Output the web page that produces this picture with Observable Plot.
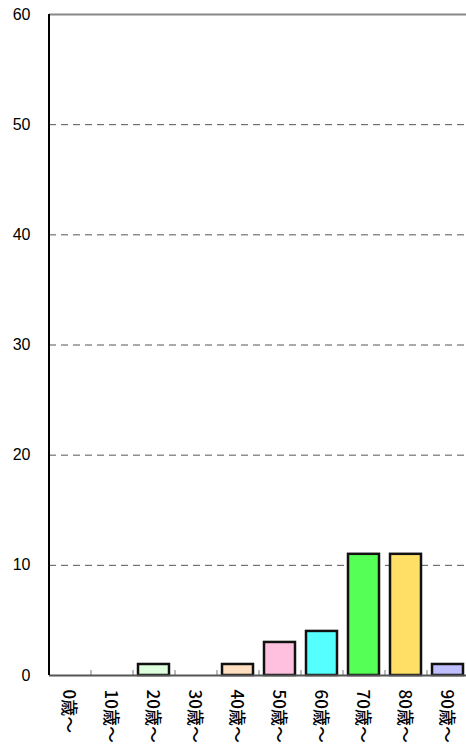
<!DOCTYPE html>
<html>
<head>
<meta charset="utf-8">
<script src="https://cdn.jsdelivr.net/npm/d3@7"></script>
<script src="https://cdn.jsdelivr.net/npm/@observablehq/plot@0.6"></script>
<style>
  html, body { margin: 0; padding: 0; background: #fff; }
  #chart { width: 466px; height: 749px; overflow: hidden; }
</style>
</head>
<body>
<div id="chart"></div>
<script>
const categories = ["0歳～","10歳～","20歳～","30歳～","40歳～","50歳～","60歳～","70歳～","80歳～","90歳～"];
const counts = [0, 0, 1, 0, 1, 3, 4, 11, 11, 1];
const palette = ["#ffffff","#ffffff","#ddffdd","#ffffff","#ffdfbf","#ffbfdf","#55ffff","#55ff55","#ffdf66","#bfbfff"];
const yTicks = [0, 10, 20, 30, 40, 50, 60];
const gridTicks = [10, 20, 30, 40, 50];

const rows = categories.map((cat, i) => ({cat, count: counts[i], color: palette[i]}));

const chart = Plot.plot({
  width: 466,
  height: 749,
  marginTop: 14,
  marginBottom: 74,
  marginLeft: 49,
  marginRight: 0,
  x: {domain: categories, range: [49, 469], paddingInner: 0.26, paddingOuter: 0.13, label: null, axis: null},
  y: {domain: [0, 60], label: null},
  color: {type: "identity"},
  style: {fontFamily: "'Liberation Sans', Arial, sans-serif", fontSize: "16px", color: "#000", background: "#fff"},
  marks: [
    Plot.ruleY(gridTicks, {stroke: "#555", strokeDasharray: "7,5", strokeWidth: 1}),
    Plot.ruleY([60], {stroke: "#888", strokeWidth: 2}),
    Plot.ruleX(categories.slice(1), {x: d => d, dx: -21, y1: 0, y2: 0.45, stroke: "#777", strokeWidth: 1}),
    Plot.barY(rows.filter(d => d.count > 0), {x: "cat", y: "count", fill: "color", stroke: "#111", strokeWidth: 2.5}),
    Plot.ruleY([0], {stroke: "#555", strokeWidth: 2}),
    Plot.ruleX(categories.slice(0, 1), {x: d => d, dx: -21, y1: 0, y2: 60, stroke: "#000", strokeWidth: 2}),
    Plot.axisY({ticks: yTicks, tickSize: 0, tickPadding: 19, fontSize: 16, fill: "#000"}),
    Plot.text(categories, {x: d => d, y: 0, text: d => d, rotate: 90, textAnchor: "start", lineAnchor: "middle",
      dy: 14, dx: -2, fontSize: 17, fontWeight: 500, fontFamily: "'Noto Sans CJK JP', sans-serif", fill: "#000"})
  ]
});
document.getElementById("chart").appendChild(chart);
</script>
</body>
</html>
